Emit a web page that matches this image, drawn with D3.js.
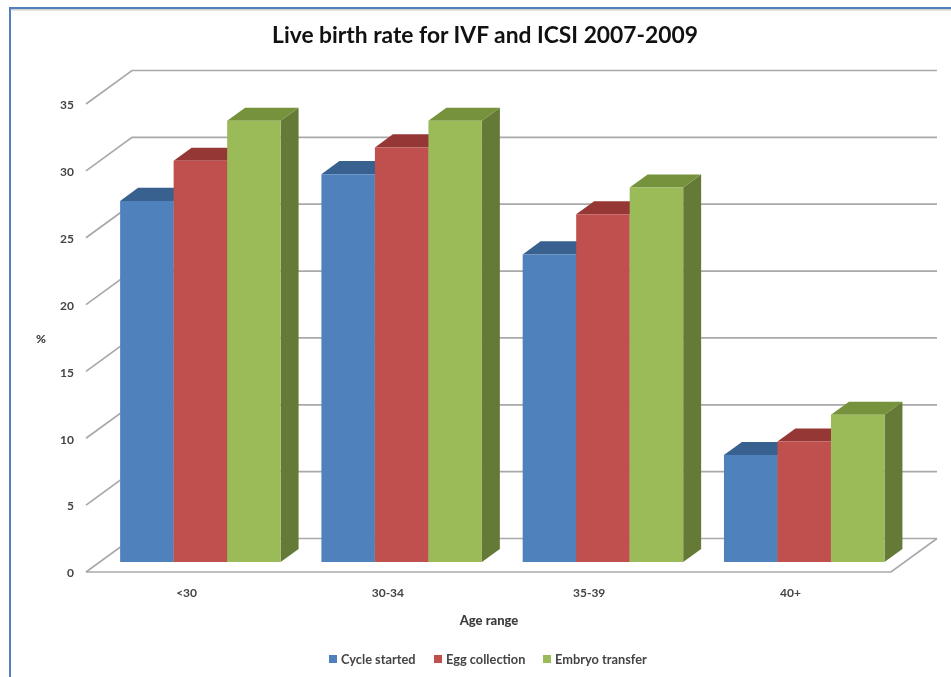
<!DOCTYPE html>
<html>
<head>
<meta charset="utf-8">
<script src="https://cdn.jsdelivr.net/npm/d3@7"></script>
<style>
  html, body { margin: 0; padding: 0; background: #fff; }
  svg { display: block; }
  text { font-family: Lato, "Open Sans", sans-serif; fill: #3c3c3c; filter: blur(0.25px); }
  .soft { filter: blur(0.5px); }
</style>
</head>
<body>
<div id="chart"></div>
<script>
var categories = ["<30", "30-34", "35-39", "40+"];
var seriesNames = ["Cycle started", "Egg collection", "Embryo transfer"];
var cycleStarted = [27, 29, 23, 8];
var eggCollection = [30, 31, 26, 9];
var embryoTransfer = [33, 33, 28, 11];
var yTicks = [0, 5, 10, 15, 20, 25, 30, 35];

var allSeries = [cycleStarted, eggCollection, embryoTransfer];
var frontColors = ["#4f81bd", "#c0504d", "#9bbb59"];
var topColors = ["#38618f", "#953735", "#76923c"];
var sideColors = ["#2f5482", "#7f2e2c", "#647a36"];
var gridColor = "#a9a9a9";

var width = 951, height = 677;

var svg = d3.select("#chart").append("svg")
  .attr("width", width)
  .attr("height", height);

// outer frame of the picture
svg.append("rect").attr("x", 9).attr("y", 7).attr("width", 942).attr("height", 2).style("fill", "#4f81bd");
svg.append("rect").attr("x", 9).attr("y", 7).attr("width", 2).attr("height", 670).style("fill", "#4f81bd");
svg.append("rect").attr("x", 11).attr("y", 9).attr("width", 940).attr("height", 1.5).style("fill", "#cfcfcf");

var x = d3.scaleBand().domain(categories).range([86, 891]).paddingInner(0.2025).paddingOuter(0.101);
var y = d3.scaleLinear().domain([0, 35]).range([572, 104]);
var inner = d3.scaleBand().domain(d3.range(seriesNames.length)).range([0, x.bandwidth()]);

// fake 3d: depth 0 = front of the floor, depth 1 = back wall
var depthX = d3.scaleLinear().domain([0, 1]).range([0, 46]);
var depthY = d3.scaleLinear().domain([0, 1]).range([0, -33.5]);
var barFront = 0.3, barBack = 0.69;

function pt(px, py, d) {
  return [px + depthX(d), py + depthY(d)];
}
var line = d3.line();

var walls = svg.append("g").attr("class", "soft")
  .style("fill", "none")
  .style("stroke", gridColor)
  .style("stroke-width", 1.7);

yTicks.forEach(function (t) {
  walls.append("path").attr("d", line([pt(86, y(t), 0), pt(86, y(t), 1), pt(891, y(t), 1)]));
});
// floor
walls.append("path").attr("d", line([pt(86, y(0), 0), pt(891, y(0), 0), pt(891, y(0), 1)]));

var bars = svg.append("g").attr("class", "soft");

categories.forEach(function (c, i) {
  allSeries.forEach(function (values, s) {
    var left = x(c) + inner(s);
    var right = left + inner.bandwidth();
    var top = y(values[i]);
    var base = y(0);

    bars.append("path")
      .attr("d", line([pt(right, base, barFront), pt(right, base, barBack), pt(right, top, barBack), pt(right, top, barFront)]) + "Z")
      .style("fill", sideColors[s]);
    bars.append("path")
      .attr("d", line([pt(left, top, barFront), pt(left, top, barBack), pt(right, top, barBack), pt(right, top, barFront)]) + "Z")
      .style("fill", topColors[s]);
    bars.append("path")
      .attr("d", line([pt(left, base, barFront), pt(left, top, barFront), pt(right, top, barFront), pt(right, base, barFront)]) + "Z")
      .style("fill", frontColors[s]);
  });
});

// axes, only the labels are kept
var yAxis = svg.append("g")
  .attr("transform", "translate(86,1)")
  .call(d3.axisLeft(y).tickValues(yTicks).tickSize(0).tickPadding(12));
var xAxis = svg.append("g")
  .attr("transform", "translate(0,572)")
  .call(d3.axisBottom(x).tickSize(0).tickPadding(16));
yAxis.select(".domain").remove();
xAxis.select(".domain").remove();
svg.selectAll(".tick text")
  .style("font-family", "Lato, 'Open Sans', sans-serif")
  .style("font-size", "12px")
  .style("font-weight", "700")
  .style("fill", "#444");

svg.append("text")
  .attr("x", 485).attr("y", 43)
  .attr("text-anchor", "middle")
  .style("font-size", "22.8px")
  .style("font-weight", "700")
  .style("fill", "#111")
  .text("Live birth rate for IVF and ICSI 2007-2009");

svg.append("text")
  .attr("x", 41).attr("y", 343)
  .attr("text-anchor", "middle")
  .style("font-size", "12px")
  .style("font-weight", "900")
  .text("%");

svg.append("text")
  .attr("x", 489).attr("y", 625)
  .attr("text-anchor", "middle")
  .style("font-size", "13px")
  .style("font-weight", "900")
  .text("Age range");

// legend
var legendX = [329, 434, 543];
var legend = svg.selectAll(".legend").data(seriesNames).enter()
  .append("g")
  .attr("class", "legend")
  .attr("transform", function (d, i) { return "translate(" + legendX[i] + ",655)"; });
legend.append("rect")
  .attr("width", 8).attr("height", 8)
  .style("fill", function (d, i) { return frontColors[i]; });
legend.append("text")
  .attr("x", 12).attr("y", 9)
  .style("font-size", "12.8px")
  .style("font-weight", "700")
  .style("fill", "#444")
  .text(function (d) { return d; });
</script>
</body>
</html>
